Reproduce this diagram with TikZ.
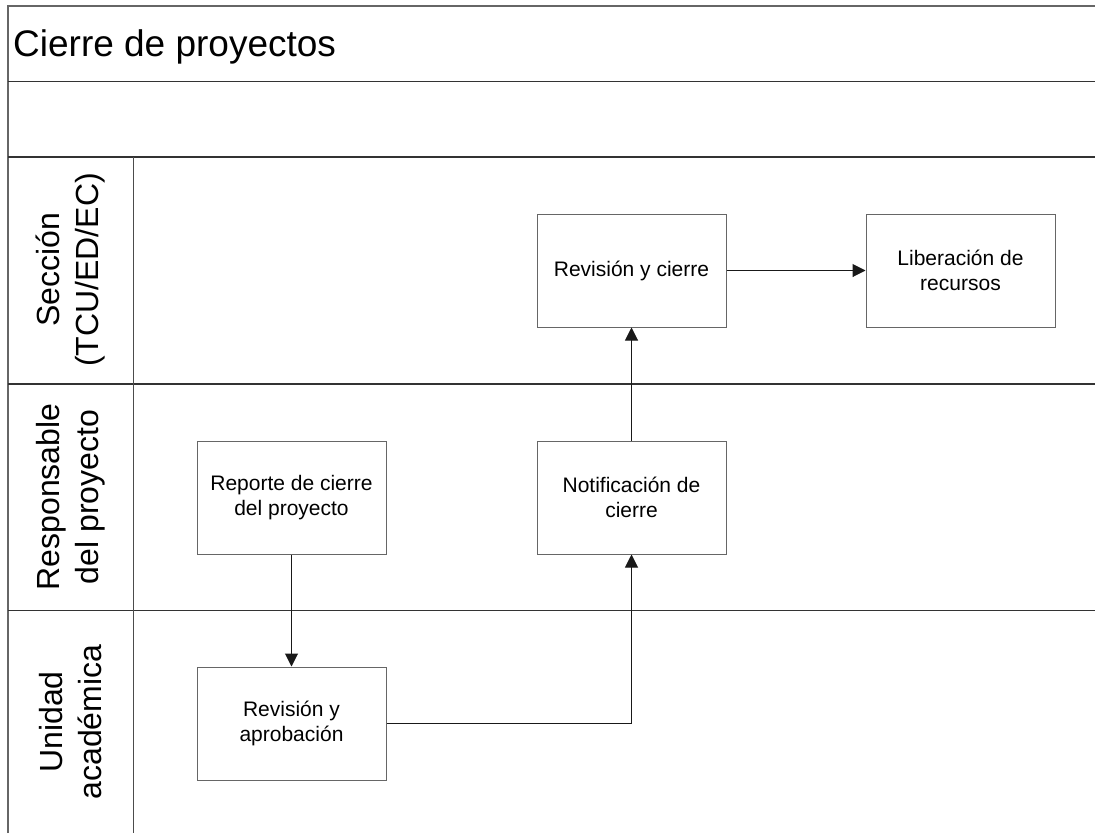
\documentclass[tikz,border=0pt]{standalone}
\usepackage{fontspec}
\setmainfont{Liberation Sans}
\usetikzlibrary{arrows.meta}
\begin{document}
\begin{tikzpicture}[x=1pt,y=-1pt,
  laneline/.style={draw=black!80, line width=1.2pt},
  stepbox/.style={draw=black!60, fill=white, line width=1pt,
    minimum width=189pt, minimum height=113pt, inner sep=0pt,
    align=center, font=\fontsize{21}{25.5}\selectfont},
  lanelabel/.style={rotate=90, align=center, inner sep=0pt,
    font=\fontsize{32}{39}\selectfont},
  flow/.style={draw=black!90, line width=1pt,
    -{Triangle[length=13pt,width=13pt]}}]
\useasboundingbox (0,0) rectangle (1095,833);

% pool frame and lane separators
\coordinate (tl) at (8,6);
\coordinate (tr) at (1095,6);
\coordinate (bl) at (8,833);
\draw[draw=black!60, line width=1.2pt] (bl) -- (tl) -- (tr);
\draw[laneline] (8,81.5) -- (1095,81.5);
\draw[laneline] (8,157) -- (1095,157);
\draw[laneline] (8,384) -- (1095,384);
\draw[laneline] (8,610.5) -- (1095,610.5);
\draw[draw=black!70, line width=1.2pt] (133.5,157) -- (133.5,833);

% title
\node[anchor=base west, inner sep=0pt, font=\fontsize{37}{44}\selectfont]
  (title) at (13,56) {Cierre de proyectos};

% lane labels
\node[lanelabel] (lsec) at (70.5,270) {Sección\\(TCU/ED/EC)};
\node[lanelabel] (lresp) at (70.5,497) {Responsable\\del proyecto};
\node[lanelabel] (luni) at (70.5,722) {Unidad\\académica};

% process steps
\node[stepbox] (rep) at (291.5,497.5) {Reporte de cierre\\del proyecto};
\node[stepbox] (rap) at (291.5,723.5) {Revisión y\\aprobación};
\node[stepbox] (notif) at (631.5,497.5) {Notificación de\\cierre};
\node[stepbox] (rcie) at (631.5,270.5) {Revisión y cierre};
\node[stepbox] (lib) at (960.5,270.5) {Liberación de\\recursos};

% flow
\draw[flow] (rep.south) -- (rap.north);
\draw[flow] (rap.east) -| (notif.south);
\draw[flow] (notif.north) -- (rcie.south);
\draw[flow] (rcie.east) -- (lib.west);
\end{tikzpicture}
\end{document}
